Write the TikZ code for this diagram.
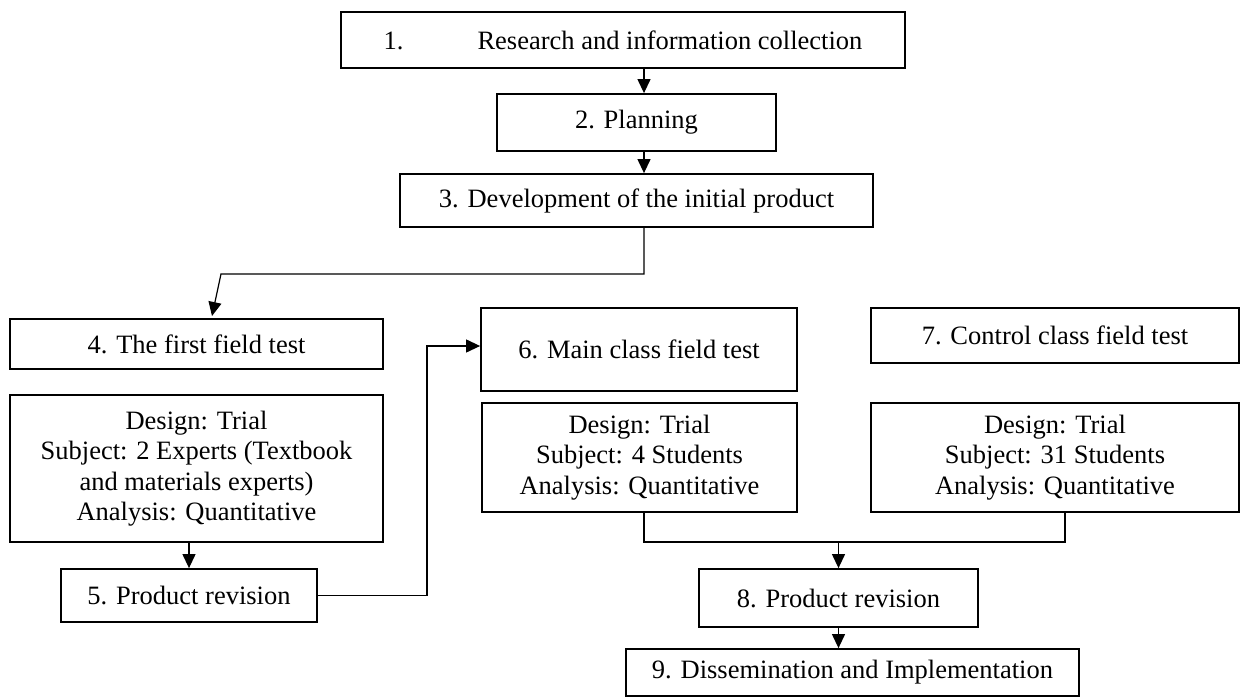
\documentclass[tikz,border=0pt]{standalone}
\usepackage{fontspec}
\setmainfont{Liberation Serif}
\usetikzlibrary{arrows.meta,calc}
\begin{document}
\begin{tikzpicture}[x=1pt,y=-1pt,
  box/.style={draw, line width=1.8pt, inner sep=0pt, align=center,
    font=\fontsize{26.5}{30.5}\selectfont},
  conn/.style={line width=1.2pt},
  arr/.style={conn, -{Triangle[length=14pt,width=13pt]}}]
\useasboundingbox (0,0) rectangle (1241,698);
\node[box, minimum width=564pt, minimum height=56pt] (b1) at (623,40)
  {1.\hspace{74pt}Research and information collection};
\node[box, minimum width=279pt, minimum height=57pt] (b2) at (636.5,122.5) {2. Planning};
\node[box, minimum width=473pt, minimum height=53pt] (b3) at (636.5,200.5) {3. Development of the initial product};
\node[box, minimum width=373pt, minimum height=50pt] (b4) at (196.5,344) {4. The first field test};
\node[box, minimum width=373pt, minimum height=147pt] (d4) at (196.5,468.5)
  {Design: Trial\\Subject: 2 Experts (Textbook\\and materials experts)\\Analysis: Quantitative};
\node[box, minimum width=256pt, minimum height=53pt] (b5) at (189,595.5) {5. Product revision};
\node[box, minimum width=316pt, minimum height=83pt] (b6) at (639,349.5) {6. Main class field test};
\node[box, minimum width=315pt, minimum height=109pt] (d6) at (639.5,457.5)
  {Design: Trial\\Subject: 4 Students\\Analysis: Quantitative};
\node[box, minimum width=368pt, minimum height=55pt] (b7) at (1055,335.5) {7. Control class field test};
\node[box, minimum width=368pt, minimum height=109pt] (d7) at (1055,457.5)
  {Design: Trial\\Subject: 31 Students\\Analysis: Quantitative};
\node[box, minimum width=279pt, minimum height=58pt] (b8) at (838.5,598) {8. Product revision};
\node[box, minimum width=453pt, minimum height=47pt] (b9) at (852.5,672.5) {9. Dissemination and Implementation};
\coordinate (ax) at (644,0);
\coordinate (k3) at (221,274);
\coordinate (t4) at (212,316);
\coordinate (k5) at (427,346);
\coordinate (m) at (644,542);
\coordinate (r7) at (1065,0);
\draw[arr] (b1.south -| ax) -- (b2.north -| ax);
\draw[arr] (b2.south -| ax) -- (b3.north -| ax);
\draw[arr] (b3.south -| ax) |- (k3) -- (t4);
\draw[arr] (d4.south -| b5) -- (b5.north);
\draw[arr] (b5.east) -| (k5) -- (k5 -| b6.west);
\draw[conn] (d6.south -| ax) -- (m) -| (d7.south -| r7);
\draw[arr] (m -| b8) -- (b8.north);
\draw[arr] (b8.south) -- (b9.north -| b8);
\end{tikzpicture}
\end{document}
